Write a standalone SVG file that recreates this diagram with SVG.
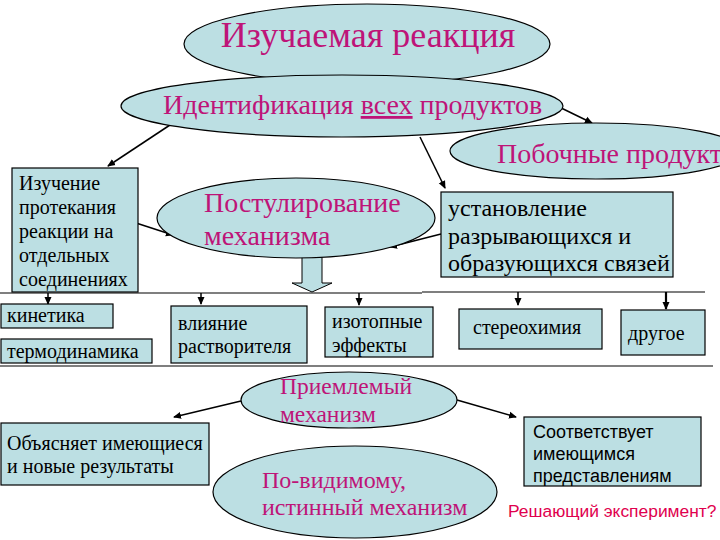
<svg xmlns="http://www.w3.org/2000/svg" width="720" height="540" viewBox="0 0 720 540">
<style>
.sh{fill:#BCDFE3;stroke:#000;stroke-width:1.2}
.m{font-family:"Liberation Serif","Times New Roman",serif;fill:#BE1478}
.b{font-family:"Liberation Serif","Times New Roman",serif;fill:#000}
.s{font-family:"Liberation Sans",Arial,sans-serif;fill:#000}
.c{stroke:#000;stroke-width:1.5;fill:none}
</style>
<defs>
<marker id="ah" markerWidth="8" markerHeight="8" refX="7" refY="4" orient="auto" markerUnits="userSpaceOnUse">
<path d="M0,0.5 L8,4 L0,7.5 Z" fill="#000"/>
</marker>
</defs>
<rect width="720" height="540" fill="#fff"/>
<g id="connectors">
<line class="c" x1="173" y1="123" x2="108" y2="166" marker-end="url(#ah)"/>
<line class="c" x1="553" y1="104" x2="592" y2="123" marker-end="url(#ah)"/>
<line class="c" x1="420" y1="137" x2="445" y2="188" marker-end="url(#ah)"/>
<line class="c" x1="133" y1="222" x2="173" y2="235" marker-end="url(#ah)"/>
<line class="c" x1="441" y1="234" x2="390" y2="247" marker-end="url(#ah)"/>
<path d="M302,257 L322,257 L322,283 L332,283 L312,292 L292,283 L302,283 Z" fill="#BCDFE3" stroke="#000" stroke-width="1"/>
<line stroke="#000" stroke-width="1.2" x1="0" y1="293" x2="422" y2="293"/>
<line stroke="#000" stroke-width="1.2" x1="422" y1="292" x2="705" y2="292"/>
<line class="c" x1="48" y1="293" x2="48" y2="304" marker-end="url(#ah)"/>
<line class="c" x1="201" y1="293" x2="201" y2="304" marker-end="url(#ah)"/>
<line class="c" x1="359" y1="293" x2="359" y2="305" marker-end="url(#ah)"/>
<line class="c" x1="518" y1="292" x2="518" y2="305" marker-end="url(#ah)"/>
<line stroke="#000" stroke-width="2.2" x1="666" y1="292" x2="666" y2="309" marker-end="url(#ah)"/>
<line stroke="#000" stroke-width="1.2" x1="0" y1="366" x2="713" y2="366"/>
<line class="c" x1="241" y1="401" x2="174" y2="417" marker-end="url(#ah)"/>
<line class="c" x1="457" y1="400" x2="516" y2="417" marker-end="url(#ah)"/>
</g>
<g id="n1">
<ellipse class="sh" cx="367" cy="44" rx="183" ry="40"/>
<text class="m" x="368" y="47" font-size="36" text-anchor="middle">Изучаемая реакция</text>
</g>
<g id="n2">
<ellipse class="sh" cx="342" cy="106" rx="221" ry="31"/>
<text class="m" x="163" y="114" font-size="28">Идентификация <tspan text-decoration="underline">всех</tspan> продуктов</text>
</g>
<g id="n3">
<ellipse class="sh" cx="596" cy="151" rx="146" ry="28"/>
<text class="m" x="497" y="163" font-size="28">Побочные продукты</text>
</g>
<g id="n4">
<rect class="sh" x="12" y="168" width="126" height="124"/>
<text class="b" font-size="20"><tspan x="19" y="190">Изучение</tspan><tspan x="19" y="214">протекания</tspan><tspan x="19" y="238">реакции на</tspan><tspan x="19" y="262">отдельных</tspan><tspan x="19" y="286">соединениях</tspan></text>
</g>
<g id="n5">
<ellipse class="sh" cx="296" cy="218" rx="139" ry="40"/>
<text class="m" font-size="28"><tspan x="204" y="212">Постулирование</tspan><tspan x="204" y="245">механизма</tspan></text>
</g>
<g id="n6">
<rect class="sh" x="441" y="192" width="232" height="85"/>
<text class="b" font-size="24"><tspan x="448" y="216">установление</tspan><tspan x="448" y="244">разрывающихся и</tspan><tspan x="448" y="271">образующихся связей</tspan></text>
</g>
<g id="n7">
<rect class="sh" x="1" y="304" width="112" height="24"/>
<text class="b" x="7" y="322" font-size="20">кинетика</text>
</g>
<g id="n8">
<rect class="sh" x="1" y="339" width="151" height="24"/>
<text class="b" x="7" y="358" font-size="20">термодинамика</text>
</g>
<g id="n9">
<rect class="sh" x="171" y="306" width="136" height="57"/>
<text class="b" font-size="20"><tspan x="178" y="330">влияние</tspan><tspan x="178" y="353">растворителя</tspan></text>
</g>
<g id="n10">
<rect class="sh" x="325" y="307" width="108" height="50"/>
<text class="b" font-size="20"><tspan x="332" y="328">изотопные</tspan><tspan x="332" y="352">эффекты</tspan></text>
</g>
<g id="n11">
<rect class="sh" x="459" y="309" width="143" height="40"/>
<text class="b" x="473" y="334" font-size="20">стереохимия</text>
</g>
<g id="n12">
<rect class="sh" x="621" y="310" width="84" height="45"/>
<text class="b" x="628" y="340" font-size="20">другое</text>
</g>
<g id="n13">
<ellipse class="sh" cx="349" cy="400" rx="108" ry="28"/>
<text class="m" font-size="23.5"><tspan x="280" y="394">Приемлемый</tspan><tspan x="280" y="422">механизм</tspan></text>
</g>
<g id="n14">
<rect class="sh" x="1" y="423" width="208" height="62"/>
<text class="b" font-size="20"><tspan x="7" y="450">Объясняет имеющиеся</tspan><tspan x="7" y="473">и новые результаты</tspan></text>
</g>
<g id="n15">
<ellipse class="sh" cx="355" cy="492" rx="142" ry="46"/>
<text class="m" font-size="24"><tspan x="262" y="488">По-видимому,</tspan><tspan x="262" y="515">истинный механизм</tspan></text>
</g>
<g id="n16">
<rect class="sh" x="524" y="417" width="177" height="69"/>
<text class="s" font-size="18"><tspan x="533" y="438">Соответствует</tspan><tspan x="533" y="460">имеющимся</tspan><tspan x="533" y="482">представлениям</tspan></text>
</g>
<g id="n17">
<text x="508" y="517" font-family="Liberation Sans, Arial, sans-serif" font-size="17.4" fill="#E0004E">Решающий эксперимент?</text>
</g>
</svg>
